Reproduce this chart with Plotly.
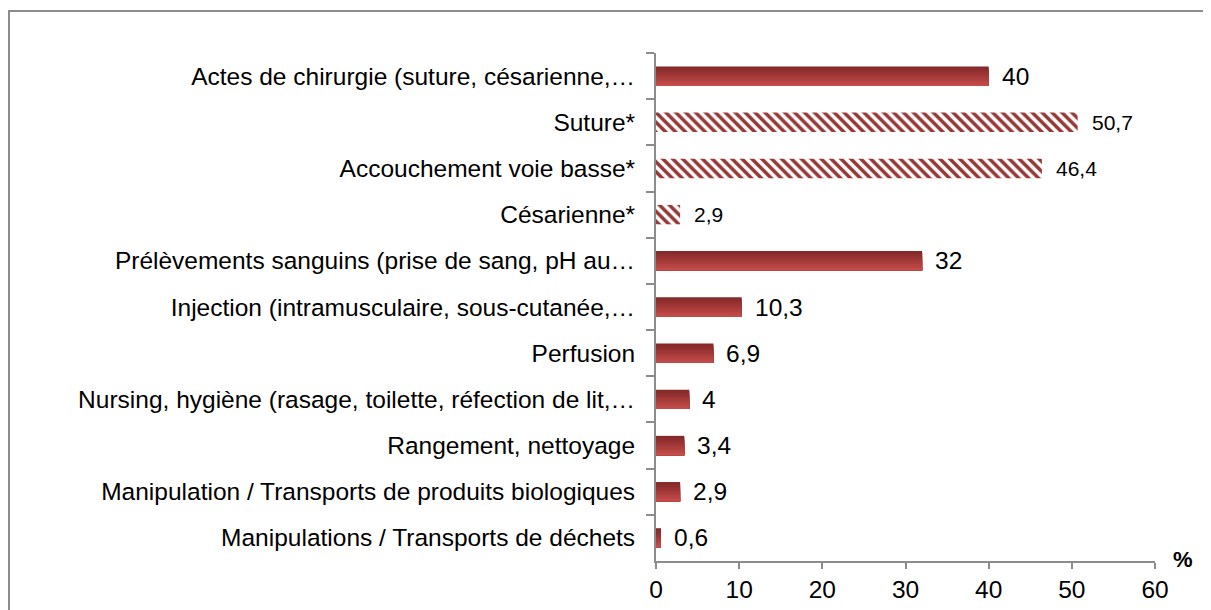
import plotly.graph_objects as go

categories = [
    "Actes de chirurgie (suture, césarienne,…",
    "Suture*",
    "Accouchement voie basse*",
    "Césarienne*",
    "Prélèvements sanguins (prise de sang, pH au…",
    "Injection (intramusculaire, sous-cutanée,…",
    "Perfusion",
    "Nursing, hygiène (rasage, toilette, réfection de lit,…",
    "Rangement, nettoyage",
    "Manipulation / Transports de produits biologiques",
    "Manipulations / Transports de déchets",
]
values = [40, 50.7, 46.4, 2.9, 32, 10.3, 6.9, 4, 3.4, 2.9, 0.6]
x_ticks = [0, 10, 20, 30, 40, 50, 60]

hatched = [c.endswith("*") for c in categories]

# page body has an 8px margin: the figure is drawn 8px in from the window edge
OFF = 8
W, H = 1211 - OFF, 610 - OFF
PX0, PX1, PY0, PY1 = 656 - OFF, 1155 - OFF, 53 - OFF, 561 - OFF
L, R, T, B = PX0, W - PX1, PY0, H - PY1
pw, ph = PX1 - PX0, PY1 - PY0

FONT = "Liberation Sans, Arial, sans-serif"

fig = go.Figure()

# gradient bars (solid ones): stacked overlays, each covering from its slice to the bar bottom
bar_w = 0.42
n = 12
c_top = (0x84, 0x29, 0x28)
c_bot = (0xc3, 0x4b, 0x49)
solid_y = [c for c, h in zip(categories, hatched) if not h]
solid_x = [v for v, h in zip(values, hatched) if not h]
for i in range(n):
    t = i / (n - 1)
    col = "rgb({},{},{})".format(*[round(a + (b - a) * t) for a, b in zip(c_top, c_bot)])
    start = -bar_w / 2 + i * bar_w / n
    fig.add_trace(go.Bar(
        y=solid_y, x=solid_x,
        orientation="h",
        width=bar_w / 2 - start,
        offset=start,
        marker=dict(color=col, line=dict(width=0)),
        showlegend=False, hoverinfo="skip",
    ))

# hatched bars
fig.add_trace(go.Bar(
    y=[c for c, h in zip(categories, hatched) if h],
    x=[v for v, h in zip(values, hatched) if h],
    orientation="h",
    width=bar_w,
    marker=dict(color="white", line=dict(width=0),
                pattern=dict(shape="\\", fgcolor="#953735", bgcolor="white",
                             size=7, solidity=0.5, fillmode="replace")),
    showlegend=False, hoverinfo="skip",
))

for c, v, h in zip(categories, values, hatched):
    fig.add_annotation(
        x=v, y=c, xref="x", yref="y",
        text=f"{v:g}".replace(".", ","),
        showarrow=False, xanchor="left", yanchor="middle",
        xshift=12 if h else 11,
        font=dict(size=21 if h else 24.5, color="#000000", family=FONT),
    )

fig.add_annotation(
    x=(1183 - OFF - PX0) / pw, y=0, xref="paper", yref="paper",
    text="<b>%</b>", showarrow=False, xanchor="center", yanchor="middle",
    yshift=2,
    font=dict(size=22, color="#000000", family=FONT),
)

# outer frame
fig.add_shape(
    type="rect", xref="paper", yref="paper",
    x0=(9 - OFF - PX0) / pw, x1=(W + 10 - PX0) / pw,
    y0=-(H + 10 - PY1) / ph, y1=1 + (PY0 - (11 - OFF)) / ph,
    line=dict(color="#8c8c8c", width=2), fillcolor="rgba(0,0,0,0)",
    layer="below",
)

fig.update_layout(
    width=W, height=H,
    margin=dict(l=L, r=R, t=T, b=B, autoexpand=False),
    paper_bgcolor="white", plot_bgcolor="white",
    barmode="overlay",
    font=dict(family=FONT, size=24.5, color="#000000"),
    xaxis=dict(
        range=[0, 60], tickvals=x_ticks, ticktext=[str(t) for t in x_ticks],
        showgrid=False, zeroline=False,
        showline=True, linecolor="#8c8c8c", linewidth=2,
        ticks="outside", ticklen=6, tickcolor="#8c8c8c", tickwidth=2,
        tickfont=dict(size=24.5), fixedrange=True, automargin=False,
    ),
    yaxis=dict(
        categoryorder="array", categoryarray=categories,
        autorange="reversed",
        showgrid=False, zeroline=False,
        showline=True, linecolor="#8c8c8c", linewidth=2,
        ticks="outside", ticklen=8, tickcolor="#8c8c8c", tickwidth=2,
        tickson="boundaries", ticklabelstandoff=14,
        tickfont=dict(size=24.5), fixedrange=True, automargin=False,
    ),
)

fig.write_html("out.html")
